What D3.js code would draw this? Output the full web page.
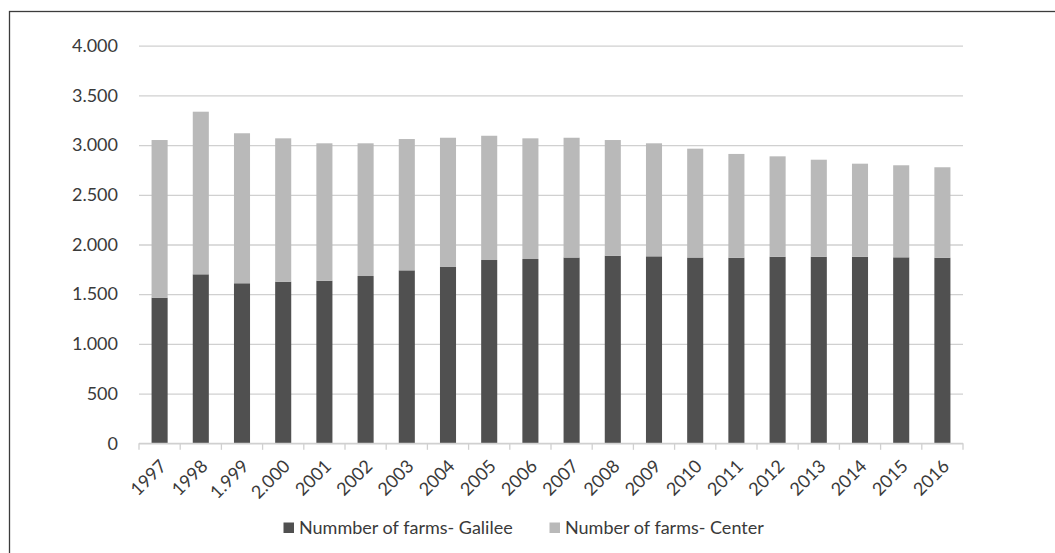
<!DOCTYPE html>
<html>
<head>
<meta charset="utf-8">
<script src="https://cdn.jsdelivr.net/npm/d3@7"></script>
<style>
  body { margin: 0; background: #fff; }
  text { font-family: Lato, "Open Sans", sans-serif; fill: #3a3a3a; }
</style>
</head>
<body>
<svg id="farmsChart" width="1055" height="553"></svg>
<script>
var svg = d3.select("#farmsChart"),
width = svg.attr("width")*1,
height = svg.attr("height")*1
var plotLeft = 139, plotRight = 963, plotTop = 45.7, plotBottom = 443.3

// Data
var years = ["1997","1998","1.999","2.000","2001","2002","2003","2004","2005","2006",
    "2007","2008","2009","2010","2011","2012","2013","2014","2015","2016"]
var galilee = [1465, 1700, 1610, 1626, 1636, 1683, 1740, 1774, 1844, 1854,
    1869, 1887, 1881, 1869, 1867, 1877, 1877, 1877, 1871, 1867]
var totals = [3051, 3336, 3119, 3068, 3018, 3018, 3061, 3074, 3094, 3068,
    3074, 3051, 3018, 2964, 2911, 2887, 2853, 2813, 2797, 2777]
var center = totals.map((t, i) => t - galilee[i])
var seriesNames = ["Nummber of farms- Galilee", "Number of farms- Center"]
var seriesColors = ["#505050", "#b9b9b9"]
var yTicks = [0, 500, 1000, 1500, 2000, 2500, 3000, 3500, 4000]

var rows = years.map((y, i) => ({year: y, galilee: galilee[i], center: center[i]}))
var stacked = d3.stack().keys(["galilee", "center"])(rows)

// Scales
var x = d3.scaleBand().domain(years).range([plotLeft, plotRight])
    .paddingInner(0.61).paddingOuter(0.305)
var y = d3.scaleLinear().domain([0, 4000]).range([plotBottom, plotTop])
var locale = d3.formatLocale({decimal: ",", thousands: ".", grouping: [3], currency: ["", ""]})
var fmt = locale.format(",")

// outer frame
svg.append("rect")
    .attr("x", 9.5).attr("y", 11.5)
    .attr("width", 1100).attr("height", 600)
    .attr("fill", "none").attr("stroke", "#3c3c3c").attr("stroke-width", 1.3)

// grid + y labels
var yAxis = svg.append("g").attr("transform", "translate(" + plotLeft + ",0)")
    .call(d3.axisLeft(y).tickValues(yTicks).tickFormat(fmt).tickSize(-(plotRight - plotLeft)).tickPadding(21))
yAxis.select(".domain").remove()
yAxis.selectAll(".tick line").attr("stroke", "#d0d0d0").attr("stroke-width", 1.3)
yAxis.selectAll(".tick text").style("font-size", "18px").style("font-family", "Lato, sans-serif").attr("fill", "#3a3a3a")

// bars
svg.selectAll(".series")
    .data(stacked)
    .enter().append("g")
    .attr("fill", (d, i) => seriesColors[i])
    .selectAll("rect")
    .data(d => d)
    .enter().append("rect")
        .attr("x", d => x(d.data.year))
        .attr("y", d => y(d[1]))
        .attr("width", x.bandwidth())
        .attr("height", d => y(d[0]) - y(d[1]))

// x axis line and boundary ticks
var xAxis = svg.append("g")
xAxis.append("line")
    .attr("x1", plotLeft).attr("x2", plotRight).attr("y1", plotBottom).attr("y2", plotBottom)
    .attr("stroke", "#d0d0d0").attr("stroke-width", 1.3)
xAxis.selectAll(".xtick")
    .data(d3.range(years.length + 1))
    .enter().append("line")
    .attr("x1", i => plotLeft + i*x.step()).attr("x2", i => plotLeft + i*x.step())
    .attr("y1", plotBottom).attr("y2", plotBottom + 6.5)
    .attr("stroke", "#d0d0d0").attr("stroke-width", 1.3)
xAxis.selectAll(".xlabel")
    .data(years)
    .enter().append("text")
    .attr("text-anchor", "end")
    .style("font-size", "18px")
    .attr("transform", d => "translate(" + (x(d) + x.bandwidth()/2 + 8) + "," + (plotBottom + 24) + ") rotate(-45)")
    .text(d => d)

// legend
var legendX = [283.5, 549.5]
var legend = svg.selectAll(".legend")
    .data(seriesNames)
    .enter().append("g")
    .attr("transform", (d, i) => "translate(" + legendX[i] + ",522.5)")
legend.append("rect")
    .attr("width", 10.5).attr("height", 10.5)
    .attr("fill", (d, i) => seriesColors[i])
legend.append("text")
    .attr("x", 15.5).attr("y", 11)
    .style("font-size", "18px")
    .text(d => d)
</script>
</body>
</html>
